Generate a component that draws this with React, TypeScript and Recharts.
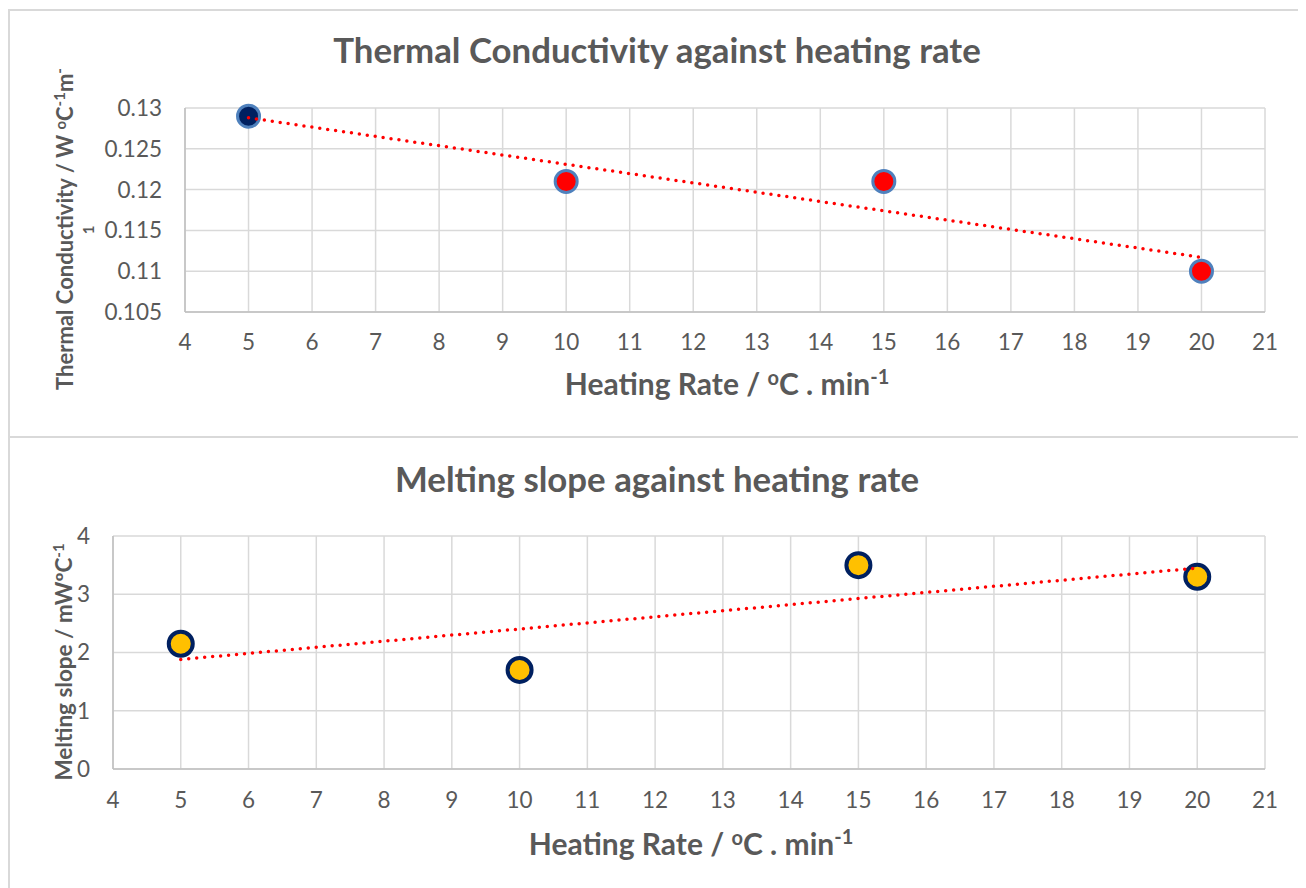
import { ScatterChart, Scatter, XAxis, YAxis, CartesianGrid, Cell } from "recharts";

// heating rate (°C/min)
const heatingRates = [5, 10, 15, 20];
const xTicks = [4, 5, 6, 7, 8, 9, 10, 11, 12, 13, 14, 15, 16, 17, 18, 19, 20, 21];

// top: thermal conductivity
const conductivity = [0.129, 0.121, 0.121, 0.11];
const conductivityTicks = [0.105, 0.11, 0.115, 0.12, 0.125, 0.13];
const conductivityTrendX = [5, 20];
const conductivityTrendY = [0.1288, 0.1117];

// bottom: melting slope
const meltingSlope = [2.15, 1.7, 3.5, 3.3];
const meltingTicks = [0, 1, 2, 3, 4];
const meltingTrendX = [5, 20];
const meltingTrendY = [1.88, 3.45];

const tcData = heatingRates.map((x, i) => ({ x, y: conductivity[i] }));
const tcTrend = conductivityTrendX.map((x, i) => ({ x, y: conductivityTrendY[i] }));
const msData = heatingRates.map((x, i) => ({ x, y: meltingSlope[i] }));
const msTrend = meltingTrendX.map((x, i) => ({ x, y: meltingTrendY[i] }));

const TEXT = "#595959";
const GRID = "#d9d9d9";
const FONT = "Lato, 'Open Sans', sans-serif";
const trendLine = { stroke: "#ff0000", strokeWidth: 3.5, strokeDasharray: "0 8", strokeLinecap: "round" as const };
const tickStyle = { fontSize: 22.5, fill: TEXT, fontFamily: FONT };

const TcDot = (p: any) => <circle cx={p.cx} cy={p.cy} r={11} fill={p.fill} stroke="#4f81bd" strokeWidth={3} />;
const MsDot = (p: any) => <circle cx={p.cx} cy={p.cy} r={12} fill="#ffc000" stroke="#002060" strokeWidth={4} />;
const NoDot = () => <g />;

export default function App() {
  return (
    <div style={{ position: "relative", width: 1298, height: 880, fontFamily: FONT, background: "#fff" }}>
      <div style={{ position: "absolute", left: 0, top: 1, width: 1298, height: 429, border: `2px solid ${GRID}`, boxSizing: "border-box" }} />
      <div style={{ position: "absolute", left: 0, top: 428, width: 1298, height: 470, border: `2px solid ${GRID}`, boxSizing: "border-box" }} />

      <div style={{ position: "absolute", left: 0, top: 1 }}>
        <ScatterChart width={1296} height={427} margin={{ top: 99, right: 39, left: 117, bottom: 94 }}>
          <CartesianGrid stroke={GRID} strokeWidth={1.5} />
          <XAxis type="number" dataKey="x" domain={[4, 21]} ticks={xTicks} height={30} tickSize={0} tickMargin={22}
            axisLine={{ stroke: "#bfbfbf", strokeWidth: 1.5 }} tickLine={false} tick={tickStyle} />
          <YAxis type="number" dataKey="y" domain={[0.105, 0.13]} ticks={conductivityTicks} width={60} tickSize={0} tickMargin={23}
            axisLine={{ stroke: "#bfbfbf", strokeWidth: 1.5 }} tickLine={false} tick={tickStyle} />
          <Scatter data={tcData} shape={TcDot} isAnimationActive={false}>
            {tcData.map((d, i) => <Cell key={d.x} fill={i === 0 ? "#002060" : "#ff0000"} />)}
          </Scatter>
          <Scatter data={tcTrend} line={trendLine} shape={NoDot} isAnimationActive={false} />
        </ScatterChart>
      </div>

      <div style={{ position: "absolute", left: 0, top: 430 }}>
        <ScatterChart width={1296} height={450} margin={{ top: 98, right: 39, left: 45, bottom: 89 }}>
          <CartesianGrid stroke={GRID} strokeWidth={1.5} />
          <XAxis type="number" dataKey="x" domain={[4, 21]} ticks={xTicks} height={30} tickSize={0} tickMargin={23}
            axisLine={{ stroke: "#bfbfbf", strokeWidth: 1.5 }} tickLine={false} tick={tickStyle} />
          <YAxis type="number" dataKey="y" domain={[0, 4]} ticks={meltingTicks} width={60} tickSize={0} tickMargin={23}
            axisLine={{ stroke: "#bfbfbf", strokeWidth: 1.5 }} tickLine={false} tick={tickStyle} />
          <Scatter data={msData} shape={MsDot} isAnimationActive={false} />
          <Scatter data={msTrend} line={trendLine} shape={NoDot} isAnimationActive={false} />
        </ScatterChart>
      </div>

      <svg width={1298} height={880} style={{ position: "absolute", left: 0, top: 0, pointerEvents: "none" }}
        fontFamily={FONT} fill={TEXT} fontWeight="bold">
        <text x={649} y={55} fontSize={34.8} textAnchor="middle">Thermal Conductivity against heating rate</text>
        <text x={719} y={387} fontSize={30} textAnchor="middle">
          Heating Rate / <tspan dy={-10} fontSize={20}>o</tspan><tspan dy={10}>C . min</tspan><tspan dy={-11} fontSize={20}>-1</tspan>
        </text>
        <text transform="translate(65,221) rotate(-90)" fontSize={22} textAnchor="middle">
          Thermal Conductivity / W <tspan dy={-7} fontSize={15}>o</tspan><tspan dy={7}>C</tspan><tspan dy={-8} fontSize={15}>-1</tspan><tspan dy={8}>m</tspan><tspan dy={-8} fontSize={15}>-</tspan>
        </text>
        <text transform="translate(86,222) rotate(-90)" fontSize={15} textAnchor="middle">1</text>

        <text x={649} y={484} fontSize={34.8} textAnchor="middle">Melting slope against heating rate</text>
        <text x={683} y={847} fontSize={30} textAnchor="middle">
          Heating Rate / <tspan dy={-10} fontSize={20}>o</tspan><tspan dy={10}>C . min</tspan><tspan dy={-11} fontSize={20}>-1</tspan>
        </text>
        <text transform="translate(64,654) rotate(-90)" fontSize={22.5} textAnchor="middle">
          Melting slope / mWºC<tspan dy={-8} fontSize={15}>-1</tspan>
        </text>
      </svg>
    </div>
  );
}
